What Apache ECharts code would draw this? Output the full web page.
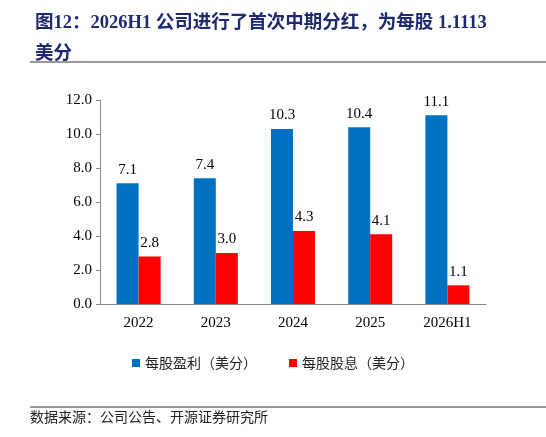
<!DOCTYPE html><html><head><meta charset="utf-8"><script src="https://cdn.jsdelivr.net/npm/echarts@6/dist/echarts.min.js"></script>
<style>body{margin:0}#c{width:546px;height:437px}</style></head><body><div id="c"></div><script>
const categories=['2022','2023','2024','2025','2026H1'];
const eps=[7.1,7.4,10.3,10.4,11.1];
const dps=[2.8,3.0,4.3,4.1,1.1];
const names=['每股盈利（美分）','每股股息（美分）'];
const ff='"Liberation Serif","Noto Sans CJK SC",serif';
const c=echarts.init(document.getElementById('c'));
c.setOption({animation:false,
title:{text:'图12：2026H1 公司进行了首次中期分红，为每股 1.1113\n美分',left:30,top:3,textStyle:{color:'#1F2A6E',fontSize:18.5,fontWeight:'bold',fontFamily:ff,lineHeight:31}},
graphic:[{type:'line',shape:{x1:30,y1:62,x2:546,y2:62},style:{stroke:'#333',lineWidth:1}},
{type:'line',shape:{x1:30,y1:407,x2:546,y2:407},style:{stroke:'#333',lineWidth:1}},
{type:'text',left:30,top:410,style:{text:'数据来源：公司公告、开源证券研究所',fontSize:14,fill:'#222',fontFamily:'"Noto Sans CJK SC"'}}],
legend:{bottom:62,left:'center',icon:'rect',itemWidth:8,itemHeight:8,itemGap:32,textStyle:{fontSize:14,fontFamily:'"Noto Sans CJK SC"',color:'#222'},data:names},
grid:{left:100,right:60,top:100,bottom:133},
xAxis:{type:'category',data:categories,axisTick:{show:false},axisLine:{lineStyle:{color:'#888'}},axisLabel:{fontSize:15,color:'#000',fontFamily:ff,margin:12}},
yAxis:{type:'value',min:0,max:12,interval:2,splitLine:{show:false},axisLine:{show:true,lineStyle:{color:'#888'}},axisTick:{show:true,length:4},axisLabel:{fontSize:15,color:'#000',fontFamily:ff,formatter:v=>v.toFixed(1)}},
series:[{name:names[0],type:'bar',data:eps,barWidth:22,barGap:'0%',itemStyle:{color:'#0070C0'},label:{show:true,position:'top',fontSize:15,color:'#000',fontFamily:ff,formatter:p=>p.value.toFixed(1),distance:6}},
{name:names[1],type:'bar',data:dps,barWidth:22,itemStyle:{color:'#FF0000'},label:{show:true,position:'top',fontSize:15,color:'#000',fontFamily:ff,formatter:p=>p.value.toFixed(1),distance:6}}]});
</script></body></html>
